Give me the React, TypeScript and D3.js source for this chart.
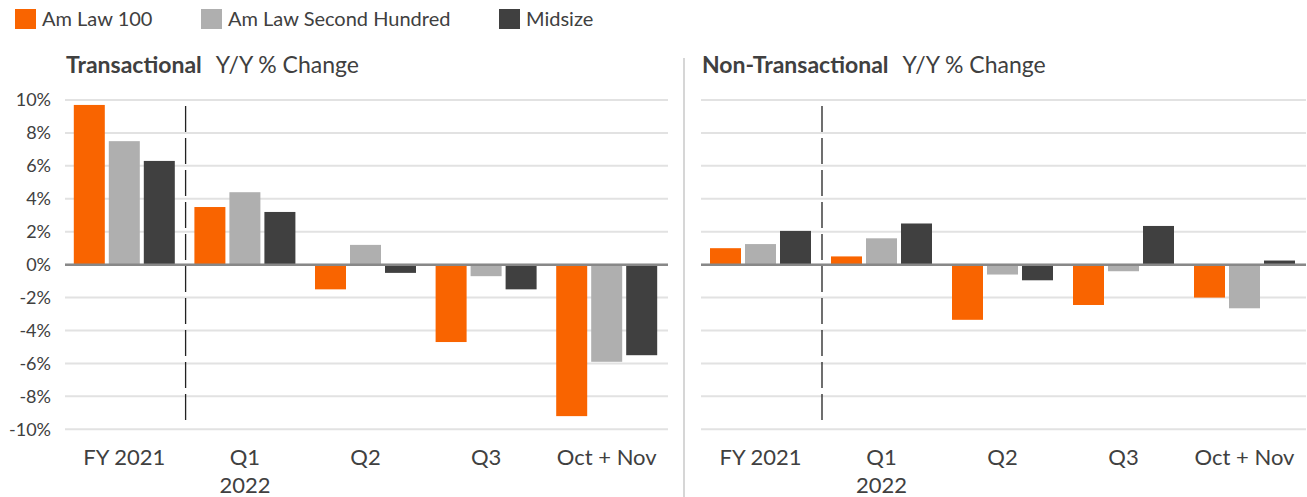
import React from "react";
import * as d3 from "d3";

const categories = ["FY 2021", "Q1\n2022", "Q2", "Q3", "Oct + Nov"];
const seriesNames = ["Am Law 100", "Am Law Second Hundred", "Midsize"];
const seriesColors = ["#f96400", "#afafaf", "#404040"];

const transactionalAmLaw100 = [9.7, 3.5, -1.5, -4.7, -9.2];
const transactionalSecond100 = [7.5, 4.4, 1.2, -0.7, -5.9];
const transactionalMidsize = [6.3, 3.2, -0.5, -1.5, -5.5];

const nonTransAmLaw100 = [1.0, 0.5, -3.35, -2.45, -2.0];
const nonTransSecond100 = [1.25, 1.6, -0.6, -0.4, -2.65];
const nonTransMidsize = [2.05, 2.5, -0.95, 2.35, 0.25];

const yTicks = [10, 8, 6, 4, 2, 0, -2, -4, -6, -8, -10];

const W = 1307;
const H = 497;
const FONT = "Lato, 'Noto Sans', sans-serif";
const TEXT = "#404040";

const y = d3.scaleLinear().domain([-10, 10]).range([429.3, 100]);

function Panel({ x0, x1, title, data, showAxis }) {
  const xb = d3.scaleBand().domain(categories).range([x0, x1]).padding(0);
  const groupW = 101;
  const xs = d3.scaleBand().domain(seriesNames).range([0, groupW]).paddingInner(4 / 35).paddingOuter(0);
  const off = (xb.bandwidth() - groupW) / 2 - 1;
  const dashX = xb(categories[1]);
  return (
    <g>
      <text x={x0 + 1} y={73} fontFamily={FONT} fontSize={23} fill={TEXT}>
        <tspan fontWeight="bold">{title}</tspan>
        <tspan dx={14}>Y/Y % Change</tspan>
      </text>
      {yTicks.map((t) => (
        <line key={"g" + t} x1={x0} x2={x1} y1={y(t)} y2={y(t)} stroke="#e2e2e2" strokeWidth={2} />
      ))}
      {showAxis &&
        yTicks.map((t) => (
          <text key={"t" + t} x={x0 - 14} y={y(t)} dy="0.35em" textAnchor="end" fontFamily={FONT} fontSize={18} fill={TEXT}>
            {t + "%"}
          </text>
        ))}
      {categories.map((c, i) =>
        seriesNames.map((s, j) => {
          const v = data[j][i];
          const bx = xb(c) + off + xs(s);
          return (
            <rect key={c + s} x={bx} width={xs.bandwidth()} y={Math.min(y(v), y(0))} height={Math.abs(y(v) - y(0))} fill={seriesColors[j]} />
          );
        })
      )}
      <line x1={x0} x2={x1} y1={y(0)} y2={y(0)} stroke="#888888" strokeWidth={2.5} />
      <line x1={dashX} x2={dashX} y1={106} y2={422} stroke="#222" strokeWidth={1.3} strokeDasharray="26,6" />
      {categories.map((c) => {
        const lines = c.split("\n");
        const cx = xb(c) + xb.bandwidth() / 2 - 1;
        return (
          <text key={"x" + c} x={cx} y={465} textAnchor="middle" fontFamily={FONT} fontSize={22} fill={TEXT}>
            {lines.map((l, k) => (
              <tspan key={k} x={cx} dy={k === 0 ? 0 : 28}>
                {l}
              </tspan>
            ))}
          </text>
        );
      })}
    </g>
  );
}

export default function App() {
  const legendX = [15, 201, 499];
  return (
    <div style={{ position: "absolute", left: 0, top: 0 }}>
      <svg width={W} height={H} style={{ display: "block", background: "#fff" }}>
        {seriesNames.map((s, i) => (
          <g key={s}>
            <rect x={legendX[i]} y={9} width={21} height={20} fill={seriesColors[i]} />
            <text x={legendX[i] + 27} y={26} fontFamily={FONT} fontSize={20} fill={TEXT}>
              {s}
            </text>
          </g>
        ))}
        <line x1={684} x2={684} y1={58} y2={H} stroke="#c8c8c8" strokeWidth={1.5} />
        <Panel x0={65} x1={668} title="Transactional" data={[transactionalAmLaw100, transactionalSecond100, transactionalMidsize]} showAxis={true} />
        <Panel x0={701} x1={1306} title="Non-Transactional" data={[nonTransAmLaw100, nonTransSecond100, nonTransMidsize]} showAxis={false} />
      </svg>
    </div>
  );
}
